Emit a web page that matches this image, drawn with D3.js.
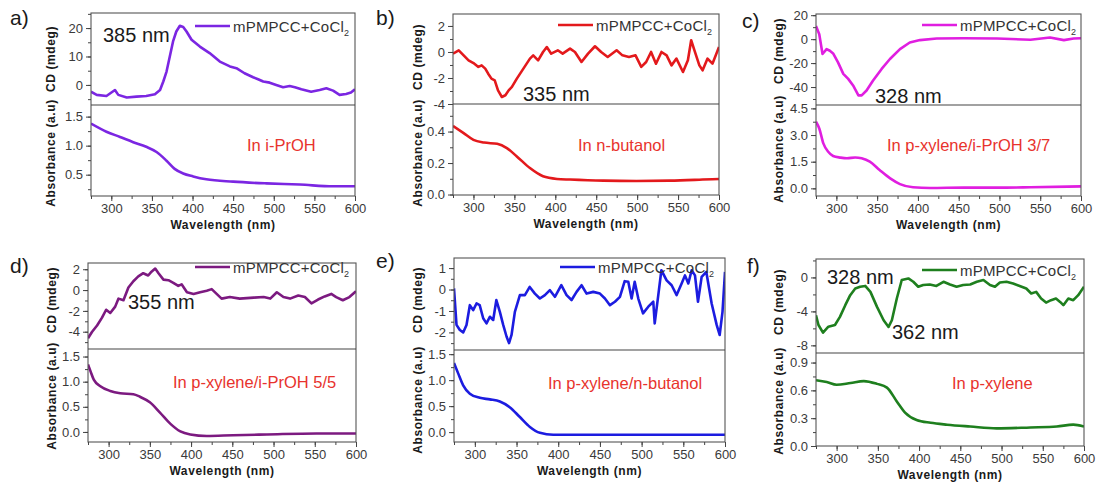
<!DOCTYPE html>
<html><head><meta charset="utf-8">
<script src="https://cdn.jsdelivr.net/npm/d3@7"></script>
<style>body{margin:0;background:#fff}svg{font-family:Arial,"Liberation Sans",sans-serif}</style>
</head><body><svg id="c" width="1097" height="484"></svg>
<script>
// ---------- DATA ----------
const wavelengthDomain = [275, 600];
const wavelengthTicks = [300, 350, 400, 450, 500, 550, 600];
const legendLabel = "mPMPCC+CoCl";
const panelLetters = ["a)", "b)", "c)", "d)", "e)", "f)"];
const solvents = ["In i-PrOH", "In n-butanol", "In p-xylene/i-PrOH 3/7", "In p-xylene/i-PrOH 5/5", "In p-xylene/n-butanol", "In p-xylene"];

const cdA = [[275,-2.4],[282,-3.5],[294,-3.9],[304.5,-1.8],[308.6,-3.5],[319,-4.4],[331,-4.1],[343,-3.9],[353.7,-3.3],[360,-1.8],[364,1.2],[368,4.7],[372,10],[376,15.3],[380,18.8],[384.4,20.8],[388.5,20.4],[392.6,18.8],[398.8,15.9],[409,13.5],[421,11.2],[433.6,8.2],[446,6.5],[454,5.9],[464,4.1],[474.6,2.7],[480.7,2],[487,1.2],[495,0.8],[503,0],[511.5,-0.8],[519.6,-0.4],[526,-0.8],[534,-1.5],[546,-2.4],[556.5,-1.8],[564.7,-1.2],[573,-2],[581,-3.5],[589,-3.2],[595,-2.7],[600,-1.5]];
const absA = [[275,1.38],[294,1.24],[310.7,1.15],[327,1.06],[343,0.98],[355.7,0.89],[368,0.74],[378,0.6],[388.5,0.52],[400.8,0.47],[417,0.42],[450,0.38],[491,0.35],[532,0.33],[573,0.3],[600,0.3]];

const cdB = [[275,-0.13],[282,0.13],[288,-0.26],[294,-0.64],[300,-0.85],[306,-1.15],[310,-1.03],[314.4,-1.28],[318,-1.67],[322,-2.05],[326,-2.18],[330,-2.95],[334.7,-3.46],[339,-3.33],[343,-2.95],[347,-2.69],[353,-2.05],[361,-1.28],[369,-0.51],[373,-0.26],[379,-0.64],[385,0],[389.6,0.38],[395,-0.13],[403,0.13],[409,-0.13],[418,0.26],[424,0],[432,-0.77],[440,-0.13],[448.5,0.44],[456,0],[464,-0.38],[474.9,0.13],[482,-0.26],[490,-0.38],[498,-0.26],[505,-1.15],[511,-0.77],[517,0],[523,-0.9],[529.7,0],[536,-0.26],[542,-1.03],[548,-0.51],[556,-1.54],[562,-0.64],[566,0.9],[570,0.13],[576,-1.03],[580,-1.41],[586,-0.51],[592,-0.9],[600,0.38]];
const absB = [[275,0.436],[288,0.39],[300,0.347],[313,0.33],[329,0.322],[340.8,0.295],[353,0.242],[369,0.168],[385,0.116],[402,0.099],[418,0.095],[459,0.088],[499,0.086],[540,0.088],[580,0.095],[600,0.099]];

const cdC = [[275,11],[279,4.1],[283,-12.4],[288,-8.3],[292,-9.7],[296,-11.9],[302,-19.4],[308.5,-29],[314.5,-33.2],[320.5,-38.7],[327,-47],[331,-47],[337,-42.9],[345,-34.6],[355.5,-24.9],[365.7,-16.6],[378,-8.3],[390,-2.8],[402.5,-0.8],[423,0.55],[456,0.8],[497,0.55],[538,-0.55],[562,1.4],[579,-0.8],[591,0.55],[600,0.8]];
const absC = [[275,3.75],[279,3.37],[284,2.53],[290,2.06],[296,1.82],[305,1.73],[313,1.69],[323,1.74],[331,1.69],[341,1.5],[353,1.03],[366,0.56],[378,0.24],[394,0.06],[415,0.02],[456,0.04],[497,0.04],[538,0.06],[600,0.11]];

const cdD = [[275,-4.63],[280,-4.0],[286,-3.4],[292,-2.65],[297,-1.89],[302,-2.2],[308,-1.59],[312,-0.82],[318,-0.98],[324,0.24],[330,0.85],[336,1.31],[342,1.62],[348,1.4],[352,1.77],[356.5,2.07],[360.5,1.62],[366.5,1.0],[372.5,0.95],[378.5,0.7],[384.5,0.4],[388.5,0.55],[395,-0.21],[403,-0.37],[411,-0.21],[419,-0.06],[425,0.09],[431,-0.37],[437,-0.82],[447,-0.67],[459,-0.82],[476,-0.73],[488,-0.67],[496,-0.82],[504,-0.21],[512,-0.67],[520,-0.82],[530,-0.52],[538,-0.67],[546,-1.28],[554,-0.91],[562,-0.61],[570,-0.37],[576,-0.67],[584,-0.98],[592,-0.67],[600,-0.12]];
const absD = [[275,1.34],[278,1.21],[282,1.04],[290,0.91],[302,0.815],[314,0.77],[330,0.75],[338,0.7],[350,0.59],[362,0.39],[375,0.16],[387,0.01],[399,-0.05],[419,-0.08],[451,-0.065],[492,-0.05],[552,-0.03],[600,-0.03]];

const cdE = [[275,0.05],[278,-1.65],[282,-1.89],[286,-2.0],[290,-1.65],[294,-0.73],[298,-0.96],[302,-0.65],[305.8,-0.73],[310,-1.34],[314,-1.58],[318,-1.27],[322,-1.42],[325.8,-0.49],[330,-1.04],[334,-1.65],[338,-2.19],[341,-2.5],[344,-2.12],[348,-1.04],[354,-0.26],[360,-0.26],[365.8,0.12],[372,-0.19],[378,-0.42],[384,-0.26],[390,-0.03],[396,-0.34],[403.7,0.2],[410,-0.26],[416,-0.49],[422,-0.11],[428,0.2],[434,-0.19],[442,-0.11],[450,-0.19],[456,-0.42],[462,-0.73],[468,-0.57],[474,-0.34],[479.7,0.39],[484,0.36],[488,-0.42],[491.7,0.36],[496,-0.42],[501.7,-1.11],[508,-0.8],[514,-0.57],[515.7,-1.58],[520,-0.26],[523.7,0.9],[530,0.43],[536,0.2],[542,-0.26],[548,0.28],[552,0.66],[556,0.28],[560,0.9],[564,0.66],[567.6,-0.57],[572,0.59],[577.6,0.82],[584,-0.65],[590,-1.65],[593.6,-2.12],[597,-1.04],[600,0.82]];
const absE = [[275,1.33],[280,1.13],[286,0.9],[294,0.74],[306,0.66],[318,0.63],[330,0.59],[341.8,0.48],[354,0.29],[366,0.1],[378,-0.013],[394,-0.05],[454,-0.05],[534,-0.05],[600,-0.05]];

const cdF = [[275,-4.45],[278,-5.6],[283.5,-6.5],[290,-5.8],[298,-5.6],[304,-4.65],[310.5,-3.27],[316.5,-2.09],[322.6,-1.3],[328.5,-1.1],[334.7,-1.0],[341,-1.7],[349,-3.47],[357,-5.04],[363,-5.83],[367,-5.04],[373,-2.48],[379,-0.3],[387,-0.12],[393,-0.51],[399,-1.1],[405,-0.9],[413,-0.83],[421,-1.0],[429.6,-0.51],[437.5,-0.83],[445.5,-1.1],[453.5,-0.9],[462,-0.83],[470,-0.51],[478,-0.3],[486,-0.9],[492,-1.1],[498,-0.59],[506,-0.51],[514,-0.71],[522,-1.0],[530,-1.3],[536,-1.89],[542,-1.7],[548,-2.48],[554,-2.96],[560,-2.68],[566,-2.48],[571,-2.88],[575,-3.27],[581,-2.48],[587,-2.68],[593,-2.09],[600,-1.1]];
const absF = [[275,0.71],[288,0.69],[300,0.66],[317,0.68],[333,0.7],[349,0.67],[361,0.63],[373,0.48],[383,0.36],[397,0.28],[414,0.25],[434,0.23],[462,0.21],[494,0.19],[535,0.2],[567,0.21],[587,0.23],[600,0.21]];

const cdTicks = [[0,10,20],[-4,-2,0,2],[-40,-20,0,20],[-4,-2,0,2],[-2,-1,0,1],[-8,-4,0]];
const absTicks = [[0.5,1.0,1.5],[0.0,0.2,0.4],[0.0,1.5,3.0,4.5],[0.0,0.5,1.0,1.5],[0.0,0.5,1.0,1.5],[0.0,0.3,0.6,0.9]];
const peakLabels = [["385 nm"],["335 nm"],["328 nm"],["355 nm"],[],["328 nm","362 nm"]];

// ---------- LAYOUT / STYLE ----------
const panels = [
 {cd:cdA, abs:absA, color:"#7b26e2", cdD:[-7.06,25.3], absD:[0.133,1.70], dec:1,
  box:{l:91,r:355,t:13,m:105,b:196}, letter:[10,25], cdT:[51,59], absT:[51,153],
  leg:[195,26], solv:[247,151], peaks:[[103,42]]},
 {cd:cdB, abs:absB, color:"#e3191c", cdD:[-4,2.92], absD:[-0.003,0.575], dec:1,
  box:{l:453,r:719,t:14,m:104,b:195}, letter:[376,25], cdT:[418,57], absT:[418,153],
  leg:[558,25], solv:[578,151], peaks:[[523,101]]},
 {cd:cdC, abs:absC, color:"#e01ee0", cdD:[-55,21], absD:[-0.43,4.69], dec:1,
  box:{l:816,r:1081,t:14,m:105,b:196}, letter:[742,28], cdT:[779,51], absT:[779,149],
  leg:[922,25], solv:[887,151], peaks:[[875,103]]},
 {cd:cdD, abs:absD, color:"#7c1a80", cdD:[-5.66,2.6], absD:[-0.2,1.65], dec:1,
  box:{l:88,r:356,t:263,m:349,b:442}, letter:[10,273], cdT:[52,300], absT:[52,396],
  leg:[195,267], solv:[173,388], peaks:[[128,309]]},
 {cd:cdE, abs:absE, color:"#1c1ce0", cdD:[-2.82,1.47], absD:[-0.19,1.58], dec:1,
  box:{l:454,r:725,t:258,m:350,b:442}, letter:[376,268], cdT:[418,300], absT:[418,400],
  leg:[560,267], solv:[548,389], peaks:[]},
 {cd:cdF, abs:absF, color:"#1e7f1e", cdD:[-8.9,2.17], absD:[0,1.003], dec:1,
  box:{l:816,r:1084,t:259,m:353,b:446}, letter:[747,273], cdT:[779,302], absT:[779,401],
  leg:[922,270], solv:[952,389], peaks:[[827,284],[892,339]]}
];

const svg = d3.select("#c");
const fmt = (v, dec) => {
  let s = dec === 0 ? String(Math.round(v)) : v.toFixed(dec);
  return s.replace("\u2212", "-");
};

panels.forEach((p, i) => {
  const g = svg.append("g");
  const B = p.box;
  const x = d3.scaleLinear().domain(wavelengthDomain).range([B.l, B.r]);
  const yc = d3.scaleLinear().domain(p.cdD).range([B.m, B.t]);
  const ya = d3.scaleLinear().domain(p.absD).range([B.b, B.m]);

  // lines
  const clipId = "clip" + i;
  svg.append("clipPath").attr("id", clipId).append("rect")
    .attr("x", B.l).attr("y", B.t).attr("width", B.r - B.l).attr("height", B.b - B.t);
  const lc = d3.line().x(d => x(d[0])).y(d => yc(d[1]));
  const la = d3.line().x(d => x(d[0])).y(d => ya(d[1])).curve(d3.curveMonotoneX);
  g.append("path").datum(p.cd).attr("d", lc).attr("fill", "none")
    .attr("stroke", p.color).attr("stroke-width", 2.6).attr("stroke-linejoin", "round").attr("clip-path", `url(#${clipId})`);
  g.append("path").datum(p.abs).attr("d", la).attr("fill", "none")
    .attr("stroke", p.color).attr("stroke-width", 2.6).attr("clip-path", `url(#${clipId})`);

  // frame
  g.append("rect").attr("x", B.l).attr("y", B.t).attr("width", B.r - B.l).attr("height", B.b - B.t)
    .attr("fill", "none").attr("stroke", "#555").attr("stroke-width", 1.1);
  g.append("line").attr("x1", B.l).attr("x2", B.r).attr("y1", B.m).attr("y2", B.m)
    .attr("stroke", "#444").attr("stroke-width", 1.2);

  // axes
  const styleAxis = (sel) => {
    sel.select(".domain").remove();
    sel.selectAll(".tick line").attr("stroke", "#444").attr("stroke-width", 1);
    sel.selectAll(".tick text").attr("fill", "#3a3a3a").style("font-size", "13px");
  };
  const minorX = d3.range(wavelengthDomain[0], wavelengthDomain[1] + 0.1, 25);
  g.append("g").attr("transform", `translate(0,${B.b})`)
    .call(d3.axisBottom(x).tickValues(minorX).tickSize(3).tickFormat(""))
    .call(styleAxis);
  g.append("g").attr("transform", `translate(0,${B.b})`)
    .call(d3.axisBottom(x).tickValues(wavelengthTicks).tickSize(5).tickPadding(3).tickFormat(d => String(d)))
    .call(styleAxis);

  const addY = (scale, ticks, dom, dec) => {
    const step = ticks[1] - ticks[0];
    const minor = [];
    for (let v = ticks[0] - step * 3; v <= dom[1] + 1e-9; v += step / 2) {
      if (v >= dom[0] - 1e-9) minor.push(+v.toFixed(6));
    }
    g.append("g").attr("transform", `translate(${B.l},0)`)
      .call(d3.axisLeft(scale).tickValues(minor).tickSize(3).tickFormat(""))
      .call(styleAxis);
    g.append("g").attr("transform", `translate(${B.l},0)`)
      .call(d3.axisLeft(scale).tickValues(ticks).tickSize(5).tickPadding(3).tickFormat(d => fmt(d, dec)))
      .call(styleAxis);
  };
  const cdDec = 0;
  addY(yc, cdTicks[i], p.cdD, cdDec);
  addY(ya, absTicks[i], p.absD, p.dec);

  // titles
  const bold = (sel) => sel.attr("font-weight", "bold").style("font-size", "12px").attr("fill", "#1a1a1a")
    .attr("letter-spacing", "0.6");
  g.append("text").text("CD (mdeg)").attr("text-anchor", "middle")
    .attr("transform", `translate(${p.cdT[0] + 4},${p.cdT[1]}) rotate(-90)`).call(bold);
  g.append("text").text("Absorbance (a.u)").attr("text-anchor", "middle")
    .attr("transform", `translate(${p.absT[0] + 4},${p.absT[1]}) rotate(-90)`).call(bold);
  g.append("text").text("Wavelength (nm)").attr("text-anchor", "middle")
    .attr("x", (B.l + B.r) / 2).attr("y", B.b + 33).call(bold);

  // panel letter
  g.append("text").text(panelLetters[i]).attr("x", p.letter[0]).attr("y", p.letter[1])
    .style("font-size", "21px").attr("fill", "#1a1a1a");

  // legend
  g.append("line").attr("x1", p.leg[0]).attr("x2", p.leg[0] + 35).attr("y1", p.leg[1]).attr("y2", p.leg[1])
    .attr("stroke", p.color).attr("stroke-width", 2.6);
  const lt = g.append("text").attr("x", p.leg[0] + 38).attr("y", p.leg[1] + 5.5)
    .style("font-size", "15px").attr("fill", "#333").attr("letter-spacing", "0.2");
  lt.append("tspan").text(legendLabel);
  lt.append("tspan").text("2").attr("dy", 4).style("font-size", "9px");

  // solvent label
  g.append("text").text(solvents[i]).attr("x", p.solv[0]).attr("y", p.solv[1])
    .style("font-size", "16.5px").attr("fill", "#e8332d");

  // peak labels
  peakLabels[i].forEach((t, k) => {
    g.append("text").text(t).attr("x", p.peaks[k][0]).attr("y", p.peaks[k][1])
      .style("font-size", "20px").attr("fill", "#1a1a1a");
  });
});
</script>
</body></html>
